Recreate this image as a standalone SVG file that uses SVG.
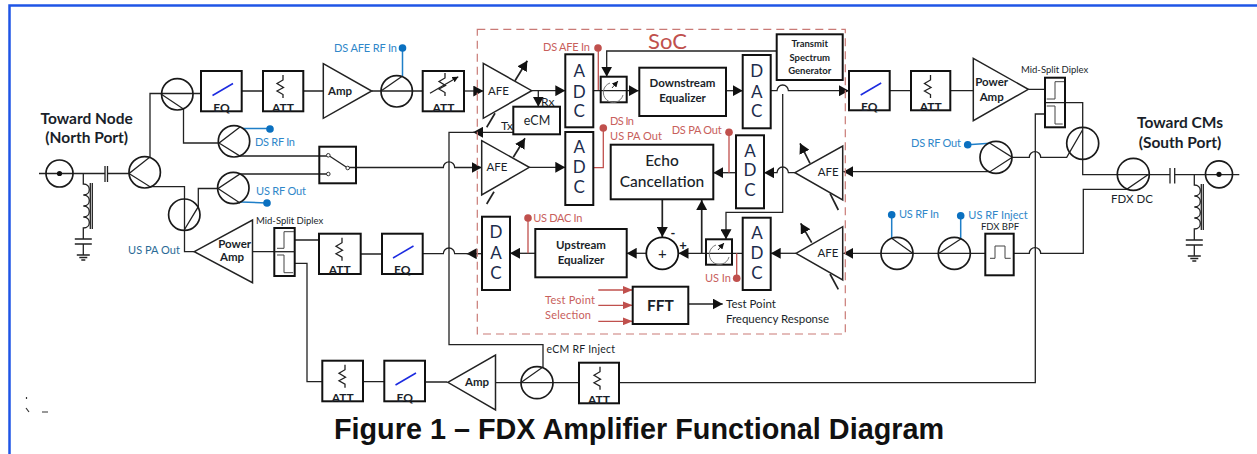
<svg xmlns="http://www.w3.org/2000/svg" width="1257" height="454" viewBox="0 0 1257 454">
<style>
text{font-family:"Lato","Liberation Sans",sans-serif;fill:#1a1f2a}
.m{text-anchor:middle}
.b{font-weight:700}
.s9{font-size:9.5px}.s10{font-size:10.5px}.s11{font-size:11.5px}.s12{font-size:12px}
.adc{font-size:17px;text-anchor:middle;fill:#1c2c4c}
.blue{fill:#2f87c9;font-size:11px}
.red{fill:#c8605c;font-size:11px}
.box{fill:#fff;stroke:#111;stroke-width:2}
.frame{fill:none;stroke:#111;stroke-width:2}
.ring{fill:none;stroke:#1a1a1a;stroke-width:1.7}
.tri{fill:#fff;stroke:#222;stroke-width:1.5}
.ln{fill:none;stroke:#222;stroke-width:1.3}
.thick{stroke-width:1.7}
.ar{marker-end:url(#ah)}
.rl{fill:none;stroke:#c0504d;stroke-width:1.3}
.bl{fill:none;stroke:#1f7fc8;stroke-width:1.5}
.dr{fill:#c0504d}
.db{fill:#0a70c0}
.slope{fill:none;stroke:#1c2be0;stroke-width:1.5}
.thin{fill:none;stroke:#444;stroke-width:1}
</style>
<defs>
<marker id="ah" markerUnits="userSpaceOnUse" markerWidth="10" markerHeight="11" refX="10" refY="5.5" orient="auto"><path d="M0,0 L10,5.5 L0,11 z" fill="#111"/></marker>
<marker id="ar" markerUnits="userSpaceOnUse" markerWidth="10" markerHeight="8" refX="10" refY="4" orient="auto"><path d="M0,0 L10,4 L0,8 z" fill="#c0504d"/></marker>
<marker id="as" markerUnits="userSpaceOnUse" markerWidth="6" markerHeight="6" refX="6" refY="3" orient="auto"><path d="M0,0 L6,3 L0,6 z" fill="#111"/></marker>
<path id="zig" d="M0,4 V9 L-6,12.5 L0.5,16.5 L-6,20 L0,23.5 V27"/>
<path id="eqs" d="M-9,10 L11.5,-2"/>
<g id="coil"><path d="M0,-11 V0 c8,0 8,11 0,11 c8,0 8,11 0,11 c8,0 8,11 0,11 c8,0 8,11 0,11 V55 M-8.5,55 H8.5 M-8.5,60 H8.5 M0,60 V71 M-6.5,71 H6.5 M-4,73.5 H4 M-2,76 H2"/><path d="M7,-1 V45 M9,-1 V45"/></g>
<g id="adapt"><path d="M-3,-7 a10,10 0 1 0 13,12" stroke="#777" stroke-width="1" fill="none"/><path d="M-1,-2 L5,-9" stroke="#333" stroke-width="1" fill="none" marker-end="url(#as)"/></g>
</defs>
<path d="M1257,5.5 H9.5 V454" fill="none" stroke="#1f55e6" stroke-width="2.5"/>
<path d="M26.5,397 V399 M26,408 L29,412 M42,412 H48" fill="none" stroke="#333" stroke-width="1.2"/>

<g id="connectors">
<path class="ln" d="M39,173.5 H105 M107,173.5 H129 L150,157 V93.5 H201"/>
<path class="ln" d="M129,173.5 L150,186.7 H184.5 V251.7 H194.5"/>
<path class="ln" d="M161,94 L183.5,109 V143 H219 L240,127 M219,143 L240,156 H328.3"/>
<path class="ln" d="M184.5,229.5 L198.3,206.7 V188.5 H218 L240,174 H328.3 M218,188.5 L240,203"/>
<path class="ln" d="M241.7,91 H263 M303.3,91 H323.3 M371.7,91 H422.7"/>
<path class="ln" d="M381,91 L402.5,76"/>
<path class="ln ar" d="M464,91 H483.3"/>
<path class="ln ar" d="M531.7,90.7 H565.3"/>
<path class="ln ar" d="M538.3,90.7 V106.7"/>
<path class="ln ar" d="M593.3,90.7 H638.7"/>
<path class="ln ar" d="M726,90.7 H742.7"/>
<path class="ln ar" d="M770.7,90.7 H777 a5.7,5.7 0 0 1 11.4,0 H849"/>
<path class="ln ar" d="M776.7,51 H606.7 V76.7"/>
<path class="ln ar" d="M513.3,132.3 H473"/>
<path class="ln" d="M474,132.3 H449 V344.7 H543 V367 L521,382.5"/>
<path class="ln ar" d="M347.7,167.5 H443.3 a5.7,5.7 0 0 1 11.4,0 H481.7"/>
<path class="ln ar" d="M529.3,167.3 H565.3"/>
<path class="ln" d="M990,143.3 L1012.3,157.3 H1029.3 a5.7,5.7 0 0 1 11.4,0 H1066.7 L1082.5,130"/>
<path class="ln ar" d="M1012.3,157.3 L990,171.7 H843.3"/>
<path class="ln ar" d="M795,172.7 H788.4 a5.7,5.7 0 0 0 -11.4,0 H764"/>
<path class="ln ar" d="M736,172.7 H713.3"/>
<path class="ln ar" d="M782.7,94 V212.3 H726 V239.3"/>
<path class="ln ar" d="M796,253.3 H770.7"/>
<path class="ln ar" d="M742.7,253.3 H678.5"/>
<path class="ln thick ar" d="M701.7,253.3 V200"/>
<path class="ln thick ar" d="M662.3,199.3 V237"/>
<path class="ln ar" d="M646,253.3 H626.7"/>
<path class="ln ar" d="M535.3,253.3 H510"/>
<path class="ln ar" d="M482,253.7 H466.7"/>
<path class="ln ar" d="M688.3,304 H722.7"/>
<path class="ln" d="M470,253.7 H454.7 a5.7,5.7 0 0 0 -11.4,0 H422.7"/>
<path class="ln ar" d="M985.3,253.3 H843.3"/>
<path class="ln" d="M912.7,253.3 L891.7,238.3 M939,253.3 L960.7,239"/>
<path class="ln" d="M1013.7,253.3 H1029.3 a5.7,5.7 0 0 1 11.4,0 H1083.3 V189.3 H1126.7 L1148.3,174.5"/>
<path class="ln" d="M889.7,90.7 H911 M950.3,90.7 H973.3 M1028.3,89.3 H1045"/>
<path class="ln" d="M1045,102.7 H1082.7 V174.7 H1170 M1174.7,174.7 H1239.3"/>
<path class="ln" d="M252.5,251.7 H274.3 M294.7,240 H319 M360.7,254 H382"/>
<path class="ln" d="M294.7,263.3 H307 V381.7 H322.3 M363,381.7 H384.3 M425,382 H447.3 M495.5,382.7 H579"/>
<path class="ln" d="M619,382.7 H1035.3 V114 H1045"/>
<path class="rl" d="M598.3,90 V48 M593.3,167.7 H603.3 V128 M729,172.7 V132 M528,253.3 V218 M736.7,253.3 V278"/>
<path class="rl" d="M598.3,290 H632.7" marker-end="url(#ar)"/>
<path class="rl" d="M598.3,305.3 H632.7" marker-end="url(#ar)"/>
<path class="rl" d="M598.3,321.3 H632.7" marker-end="url(#ar)"/>
<path class="bl" d="M402.5,76 V48 M243,128.6 H270 M241,202 L267,203 M990,143.3 L967.7,144.7 M891.7,238.3 V214.7 M960.7,239 V215.7"/>
</g>

<g id="soc"><rect x="477.3" y="29.3" width="368" height="304.7" fill="none" stroke="#c97a76" stroke-width="1.2" stroke-dasharray="8 5"/>
<text x="667.5" y="49" class="m" style="font-size:22px;fill:#c0504d">SoC</text></g>

<g id="north-port"><circle class="ring" cx="59.5" cy="173.5" r="13.5"/><circle cx="59.5" cy="173.5" r="2.6" fill="#111"/>
<path class="ln" d="M105,166 V182 M107.5,166 V182"/>
<use href="#coil" x="83.3" y="184" class="ln"/>
<text x="86.7" y="124" class="m b" style="font-size:15.5px">Toward Node</text><text x="86.7" y="143" class="m b" style="font-size:15.5px">(North Port)</text></g>

<g id="coupler-n1"><circle class="ring" cx="144.7" cy="172.3" r="15.7"/></g>
<g id="coupler-n2"><circle class="ring" cx="177.3" cy="94.3" r="15.7"/></g>
<g id="coupler-n3"><circle class="ring" cx="184.3" cy="214.7" r="15.7"/></g>
<g id="ds-rf-in"><circle class="ring" cx="234" cy="141.3" r="15.7"/><circle class="db" cx="270" cy="129" r="3.8"/><text x="255" y="146" class="blue" textLength="40">DS RF In</text></g>
<g id="us-rf-out"><circle class="ring" cx="233.3" cy="188" r="15.7"/><circle class="db" cx="267" cy="203" r="3.8"/><text x="256" y="195" class="blue" textLength="50">US RF Out</text></g>
<g id="us-pa-out"><text x="128" y="254" class="s11" style="fill:#2a6a96;font-size:11px" textLength="52">US PA Out</text></g>

<g id="eq-ds1"><rect class="box" x="201" y="71" width="40.7" height="40.3"/><use href="#eqs" x="221.5" y="85.5" class="slope"/><text x="221.5" y="111.5" class="m b s12">EQ</text></g>
<g id="att-ds1"><rect class="box" x="263" y="71" width="40.3" height="40.3"/><use href="#zig" x="283" y="71" class="ln"/><text x="283" y="111.5" class="m b s12">ATT</text></g>
<g id="amp-ds"><path class="tri" d="M323.3,63.7 L371.7,91 L323.3,118.3 z"/><text x="340" y="95" class="m b s11">Amp</text></g>
<g id="ds-afe-rf-in"><circle class="ring" cx="396.7" cy="91.3" r="15.7"/><circle class="db" cx="402.5" cy="48" r="3.8"/><text x="334" y="52" class="blue" textLength="63">DS AFE RF In</text></g>
<g id="att-var"><rect class="box" x="422.7" y="71" width="41.3" height="40.3"/><use href="#zig" x="445" y="69" class="ln"/><path class="ln" d="M430,93.3 L458.3,76.7" marker-end="url(#as)"/><text x="443.5" y="111.5" class="m b s12">ATT</text></g>

<g id="switch"><rect class="frame" x="319.3" y="146.7" width="36.7" height="36.6"/><path class="ln" d="M328.3,155.3 L347.7,168"/><circle cx="328.3" cy="155.3" r="1.8" fill="#fff" stroke="#333"/><circle cx="328.3" cy="174" r="1.8" fill="#fff" stroke="#333"/><circle cx="347.7" cy="168" r="1.8" fill="#fff" stroke="#333"/></g>

<g id="pa-us"><path class="tri" d="M194.3,251.7 L252.5,220 V282.7 z"/><text x="234.7" y="247.5" class="m b s11">Power</text><text x="232" y="260.5" class="m b s11">Amp</text></g>
<g id="diplex-us"><rect class="frame" x="274.3" y="228" width="20.4" height="48"/><path class="thin" d="M277,248.3 H284 V231.7 H294 M277,255 H284 V272.7 H293"/><path class="ln" d="M274.3,251.7 H294.7"/><text x="256" y="224" class="s9">Mid-Split Diplex</text></g>
<g id="att-us"><rect class="box" x="319" y="233.7" width="41.7" height="40.3"/><use href="#zig" x="342" y="233.7" class="ln"/><text x="339.8" y="274" class="m b s12">ATT</text></g>
<g id="eq-us"><rect class="box" x="382" y="233.7" width="40.7" height="40.3"/><use href="#eqs" x="402" y="248" class="slope"/><text x="402.3" y="274" class="m b s12">EQ</text></g>
<g id="att-b1"><rect class="box" x="322.3" y="360.7" width="40.7" height="40.6"/><use href="#zig" x="345" y="360.7" class="ln"/><text x="342.7" y="401.5" class="m b s12">ATT</text></g>
<g id="eq-b"><rect class="box" x="384.3" y="360.7" width="40.7" height="40.6"/><use href="#eqs" x="404.5" y="375" class="slope"/><text x="404.7" y="401.5" class="m b s12">EQ</text></g>
<g id="amp-b"><path class="tri" d="M447.8,382.3 L495.5,355 V410 z"/><text x="477" y="386" class="m b s11">Amp</text></g>
<g id="ecm-rf-inject"><circle class="ring" cx="537" cy="382.7" r="16"/><text x="546.5" y="353" class="s10" textLength="68.5">eCM RF Inject</text></g>
<g id="att-b2"><rect class="box" x="579" y="362.7" width="40" height="40.6"/><use href="#zig" x="600" y="362.7" class="ln"/><text x="599" y="403.5" class="m b s12">ATT</text></g>

<g id="afe-ds"><path class="tri" d="M483.3,63.3 L531.7,90.7 L483.3,118.3 z"/><path class="ln thick" d="M486.7,127.3 L495,113.3"/><path class="ln thick ar" d="M515,80.7 L527.3,60.7"/><text x="498.5" y="94.5" class="m s11">AFE</text></g>
<g id="ecm"><rect class="box" x="513.3" y="106.7" width="46.7" height="27.6"/><text x="537" y="125" class="m s12" style="font-size:12.5px">eCM</text><text x="541" y="106" class="s12">Rx</text><text x="501" y="130" class="s12">Tx</text></g>
<g id="adc-ds"><rect class="box" x="565.3" y="54.3" width="28" height="73"/><text x="579.3" y="77" class="adc">A</text><text x="579.3" y="97.5" class="adc">D</text><text x="579.3" y="117" class="adc">C</text></g>
<g id="adapt-ds"><rect class="frame" x="600.7" y="76.7" width="26" height="25.6"/><use href="#adapt" x="613" y="90"/></g>
<g id="ds-afe-in"><circle class="dr" cx="598" cy="48" r="3.8"/><text x="543" y="50.7" class="red" textLength="47">DS AFE In</text></g>
<g id="ds-eq"><rect class="box" x="639.3" y="67.7" width="86.7" height="48.3"/><text x="682.5" y="86.7" class="m b s11">Downstream</text><text x="682.5" y="102" class="m b s11">Equalizer</text></g>
<g id="dac-ds"><rect class="box" x="742.7" y="55" width="28" height="73.3"/><text x="756.7" y="77" class="adc">D</text><text x="756.7" y="97.5" class="adc">A</text><text x="756.7" y="117" class="adc">C</text></g>
<g id="tsg"><rect class="box" x="776.7" y="34.3" width="66" height="45.7"/><text x="809.7" y="46.7" class="m b s9">Transmit</text><text x="809.7" y="60.5" class="m b s9">Spectrum</text><text x="809.7" y="74" class="m b s9">Generator</text></g>

<g id="afe-us-in"><path class="tri" d="M481.7,140.7 L529.3,167.3 L481.7,195 z"/><path class="ln thick" d="M486.7,204 L494,191.7"/><path class="ln thick ar" d="M513.3,157.3 L525,138.3"/><text x="497" y="171" class="m s11">AFE</text></g>
<g id="adc-us"><rect class="box" x="565.3" y="132" width="28" height="73"/><text x="579.3" y="153" class="adc">A</text><text x="579.3" y="173" class="adc">D</text><text x="579.3" y="193" class="adc">C</text></g>
<g id="ds-in"><circle class="dr" cx="603.3" cy="128" r="3.8"/><text x="610" y="124.7" class="red" textLength="24">DS In</text><text x="610" y="140" class="red" textLength="52">US PA Out</text></g>
<g id="echo"><rect class="box" x="610.7" y="144.7" width="102.6" height="54.6"/><text x="662" y="166" class="m" style="font-size:15.5px;font-weight:500">Echo</text><text x="662" y="186.7" class="m" style="font-size:15.5px;font-weight:500">Cancellation</text></g>
<g id="ds-pa-out"><circle class="dr" cx="729" cy="132.3" r="3.8"/><text x="671.7" y="134" class="red" textLength="50">DS PA Out</text></g>
<g id="adc-fb"><rect class="box" x="736" y="135.3" width="28" height="73"/><text x="750" y="157" class="adc">A</text><text x="750" y="176" class="adc">D</text><text x="750" y="195.5" class="adc">C</text></g>
<g id="afe-fb"><path class="tri" d="M795,172.7 L842.7,146 V200 z"/><path class="ln thick" d="M838.3,210 L830,193.3"/><path class="ln thick ar" d="M810,163.3 L800,143.3"/><text x="828.3" y="176" class="m s11">AFE</text></g>

<g id="dac-us"><rect class="box" x="482" y="216.7" width="28" height="73.3"/><text x="496" y="238.3" class="adc">D</text><text x="496" y="258.5" class="adc">A</text><text x="496" y="278.5" class="adc">C</text></g>
<g id="us-dac-in"><circle class="dr" cx="528" cy="218" r="3.8"/><text x="533.3" y="221.5" class="red" textLength="49">US DAC In</text></g>
<g id="us-eq"><rect class="box" x="535.3" y="229" width="91.4" height="48.3"/><text x="581" y="249.3" class="m b s11">Upstream</text><text x="581" y="264" class="m b s11">Equalizer</text></g>
<g id="sum"><circle cx="662.3" cy="253.3" r="16" fill="#fff" stroke="#111" stroke-width="1.8"/><text x="662.3" y="259" class="m" style="font-size:15px">+</text><text x="673" y="238" class="m b" style="font-size:13px">-</text><text x="683" y="250" class="m b" style="font-size:13px">+</text></g>
<g id="adapt-us"><rect class="frame" x="706" y="239.3" width="26" height="25.4"/><use href="#adapt" x="719" y="252"/></g>
<g id="us-in"><circle class="dr" cx="736.7" cy="278.3" r="3.8"/><text x="705" y="282" class="red" textLength="26">US In</text></g>
<g id="adc-usin"><rect class="box" x="742.7" y="217.7" width="28" height="72.3"/><text x="757" y="238.5" class="adc">A</text><text x="757" y="258.5" class="adc">D</text><text x="757" y="278.5" class="adc">C</text></g>
<g id="afe-usin"><path class="tri" d="M796,253.3 L842.7,226.7 V280 z"/><path class="ln thick" d="M838.3,289.3 L830,274"/><path class="ln thick ar" d="M811.7,242.7 L800.7,223.3"/><text x="828" y="257" class="m s11">AFE</text></g>
<g id="fft"><rect class="box" x="632.7" y="286.7" width="55.6" height="37.3"/><text x="660.5" y="310.7" class="m b" style="font-size:15.5px">FFT</text></g>
<g id="test-sel"><text x="545" y="304" class="red" textLength="50">Test Point</text><text x="545" y="318.7" class="red" textLength="46">Selection</text></g>
<g id="test-out"><text x="726" y="308" class="s11">Test Point</text><text x="726" y="323.3" class="s11" textLength="103">Frequency Response</text></g>

<g id="eq-ds2"><rect class="box" x="849" y="71" width="40.7" height="39.3"/><use href="#eqs" x="869.7" y="85" class="slope"/><text x="869.3" y="110.5" class="m b s12">EQ</text></g>
<g id="att-ds2"><rect class="box" x="911" y="71" width="39.3" height="39.3"/><use href="#zig" x="930.5" y="71" class="ln"/><text x="930.7" y="110.5" class="m b s12">ATT</text></g>
<g id="pa-ds"><path class="tri" d="M973.3,58.3 L1028.3,89.3 L973.3,120.7 z"/><text x="991.7" y="86" class="m b s11">Power</text><text x="991.7" y="100.7" class="m b s11">Amp</text></g>
<g id="diplex-ds"><rect class="frame" x="1045" y="77.7" width="20" height="49.6"/><path class="thin" d="M1046.7,99 H1055 V81.7 H1064 M1046.7,106 H1055 V124 H1062.7"/><text x="1021" y="73.3" class="s9">Mid-Split Diplex</text></g>
<g id="coupler-s1"><circle class="ring" cx="1082.7" cy="143.3" r="16"/></g>
<g id="ds-rf-out"><circle class="ring" cx="996" cy="157.3" r="16"/><circle class="db" cx="967.7" cy="144.7" r="3.8"/><text x="911" y="147.3" class="blue" textLength="50">DS RF Out</text></g>
<g id="fdx-dc"><circle class="ring" cx="1133.3" cy="174.3" r="16"/><text x="1132" y="203.3" class="m s11">FDX DC</text></g>
<g id="us-rf-in"><circle class="ring" cx="897" cy="253.3" r="16"/><circle class="db" cx="891.7" cy="214.7" r="3.8"/><text x="899" y="217.7" class="blue" textLength="40">US RF In</text></g>
<g id="us-rf-inject"><circle class="ring" cx="954.3" cy="253.3" r="16"/><circle class="db" cx="960.7" cy="215.7" r="3.8"/><text x="968.3" y="218.7" class="blue" textLength="59.4">US RF Inject</text></g>
<g id="fdx-bpf"><rect class="box" x="985.3" y="233.7" width="28.4" height="41.6"/><path class="thin" d="M990,258.3 H995 V246 H1005 V258.3 H1010.7"/><text x="1000" y="230" class="m s9">FDX BPF</text></g>
<g id="south-port"><circle class="ring" cx="1219" cy="174.3" r="13.5"/><circle cx="1219" cy="174.3" r="2.6" fill="#111"/>
<path class="ln" d="M1170,168 V183.5 M1174.7,168 V183.5"/>
<use href="#coil" x="1194.3" y="185" class="ln"/>
<text x="1180" y="128.3" class="m b" style="font-size:15.5px">Toward CMs</text><text x="1180" y="147.7" class="m b" style="font-size:15.5px">(South Port)</text></g>

<text id="title" x="639" y="439" class="m" style="font-family:'Liberation Sans',Arial,sans-serif;font-weight:700;font-size:28.8px;fill:#111">Figure 1 – FDX Amplifier Functional Diagram</text>
</svg>
